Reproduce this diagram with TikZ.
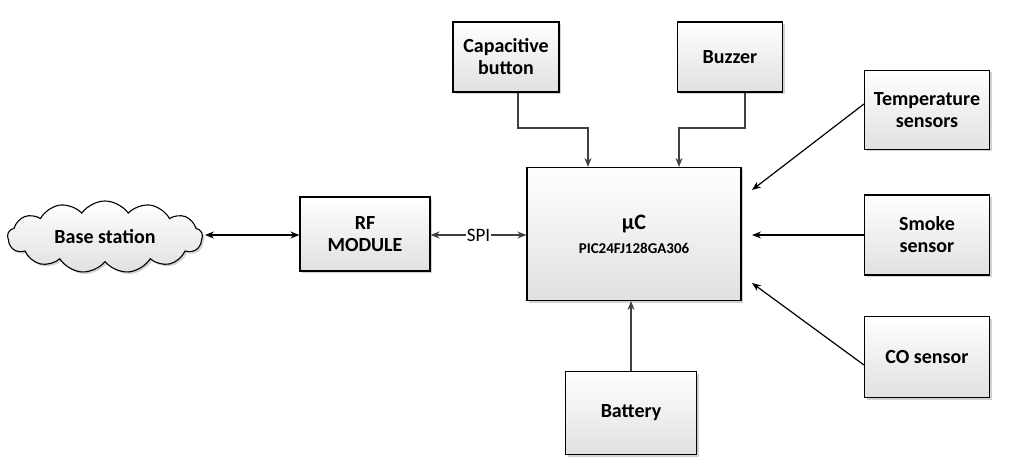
\documentclass[tikz,border=0pt]{standalone}
\usepackage{fontspec}
\setmainfont{Carlito}
\usetikzlibrary{shapes.symbols,arrows.meta,shadows}
\begin{document}
\begin{tikzpicture}[x=1pt,y=-1pt,
  box/.style={draw=black,line width=1.1pt,top color=white,bottom color=black!12,
    drop shadow={shadow xshift=2pt,shadow yshift=-2pt,fill=black!35},
    font=\bfseries\fontsize{20}{22}\selectfont,align=center,inner sep=0pt},
  arr/.style={line width=1.2pt,draw=black!75,-{Stealth[length=9pt,width=7pt]}},
  darr/.style={line width=1.2pt,draw=black,{Stealth[length=9pt,width=7pt]}-{Stealth[length=9pt,width=7pt]}}]
\useasboundingbox (0,0) rectangle (1024,462);
\node[box,minimum width=106pt,minimum height=70pt] (cap) at (506,57) {Capacitive\\button};
\node[box,minimum width=105pt,minimum height=70pt] (buz) at (730,57) {Buzzer};
\node[box,minimum width=125pt,minimum height=79pt] (temp) at (927,110) {Temperature\\sensors};
\node[box,minimum width=125pt,minimum height=80pt] (smoke) at (927,235) {Smoke\\sensor};
\node[box,minimum width=125pt,minimum height=81pt] (co) at (927,357) {CO sensor};
\node[box,minimum width=214pt,minimum height=133pt] (mc) at (634,234) {\fontsize{22}{26}\selectfont µC\\[2pt]\fontsize{15}{18}\selectfont PIC24FJ128GA306};
\node[box,minimum width=130pt,minimum height=74pt] (rf) at (365,234) {RF\\MODULE};
\node[box,minimum width=131pt,minimum height=83pt] (bat) at (631,413) {Battery};
\node[cloud,cloud puffs=13,cloud puff arc=110,aspect=2.8,draw=black,line width=1.1pt,
  top color=white,bottom color=black!12,drop shadow={shadow xshift=2pt,shadow yshift=-2pt,fill=black!35},
  font=\bfseries\fontsize{20}{22}\selectfont,minimum width=195pt,minimum height=72pt,inner sep=0pt] (bs) at (105,237) {Base station};
\coordinate (c1) at (518,128); \coordinate (c2) at (588,128);
\coordinate (b1) at (745,128); \coordinate (b2) at (679,128);
\draw[arr] (cap.south -| c1) -- (c1) -- (c2) -- (c2 |- mc.north);
\draw[arr] (buz.south -| b1) -- (b1) -- (b2) -- (b2 |- mc.north);
\coordinate (t1) at (752,190); \coordinate (s1) at (752,235); \coordinate (o1) at (752,283);
\draw[arr,draw=black] (temp.west |- 0,104) -- (t1);
\draw[arr,draw=black] (smoke.west) -- (s1);
\draw[arr,draw=black] (co.west |- 0,365) -- (o1);
\draw[arr] (bat.north) -- (bat.north |- mc.south);
\draw[darr,draw=black!75] (rf.east |- 0,235) -- node[fill=white,inner sep=1pt,font=\fontsize{19}{20}\selectfont]{SPI} (mc.west |- 0,235);
\draw[darr] (205,235) -- (rf.west |- 0,235);
\end{tikzpicture}
\end{document}
